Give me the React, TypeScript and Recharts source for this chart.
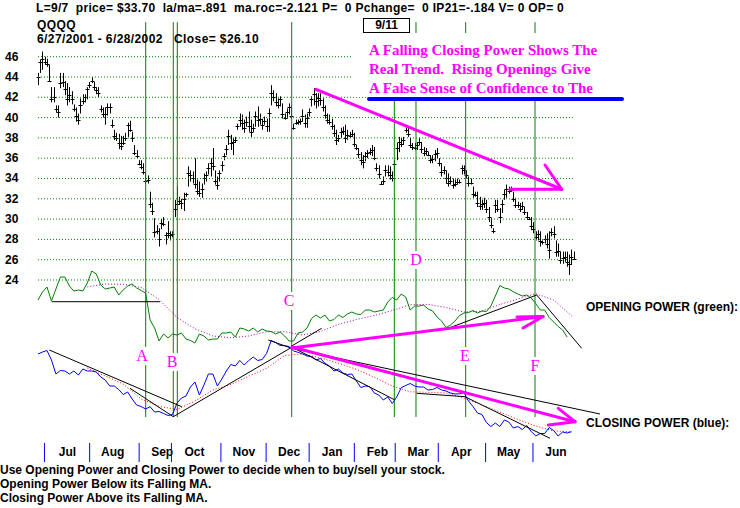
import React from 'react';
import { ComposedChart, Bar, Line, XAxis, YAxis, ReferenceLine } from 'recharts';

// QQQQ daily bars, 6/27/2001 - 6/28/2002
const priceHigh = [
  44.4, 45.7, 46.5, 46.0, 45.8, 45.2, 43.0, 43.0, 41.2, 41.2,
  44.4, 44.4, 43.6, 43.4, 43.0, 42.6, 41.3, 41.0, 40.4, 41.9,
  42.3, 42.3, 43.0, 43.5, 44.0, 43.5, 43.0, 43.0, 41.2, 41.0,
  41.0, 41.4, 41.4, 39.8, 38.8, 38.5, 38.4, 38.2, 38.2, 38.5,
  39.5, 39.7, 38.6, 37.3, 36.8, 35.8, 35.8, 35.5, 34.6, 34.3,
  32.7, 31.6, 30.1, 29.4, 29.1, 30.0, 30.2, 28.7, 29.8, 28.8,
  28.8, 31.9, 33.2, 32.2, 32.0, 32.6, 32.6,
  35.2, 34.8, 34.7, 36.0, 33.9, 33.7, 33.5, 34.5, 34.7, 35.5,
  36.0, 37.0, 34.8, 34.2, 34.8, 35.7, 36.5, 37.3, 38.8, 38.3,
  38.0, 38.1, 39.4, 40.4, 40.3, 39.8, 40.1, 40.6, 39.8, 39.4,
  40.6, 41.1, 40.4, 39.9, 40.1, 39.9, 40.9, 43.2, 42.7, 42.4,
  41.9, 42.1, 41.4, 40.4, 40.9, 41.4, 41.2, 39.4, 39.8, 39.8,
  39.9, 40.8, 40.3, 40.4, 40.9, 42.1, 42.9, 42.4, 42.4, 42.4,
  41.9, 41.2, 40.4, 40.3, 39.9, 39.3, 38.8, 38.3, 39.0, 39.1,
  39.3, 38.8, 38.6, 38.8, 38.5, 37.3, 37.0, 36.6, 36.3, 36.6,
  36.8, 37.0, 37.3, 37.1, 35.5, 35.3, 33.7,
  34.2, 35.3, 35.3, 35.2, 34.7, 35.8, 37.5, 38.1, 38.0, 38.1,
  39.1, 39.0, 38.0, 37.5, 37.5, 37.6, 38.0, 37.6, 37.1, 37.0,
  36.6, 36.3, 36.3, 36.8, 37.0, 36.0, 35.5, 35.2, 34.8, 34.5,
  34.2, 34.0, 33.9, 34.0, 33.9, 35.3, 35.3, 34.8, 34.2, 34.0,
  33.2, 32.7, 32.7, 32.2, 31.9, 32.1, 31.9, 31.2, 30.1, 29.1,
  31.9, 31.9, 31.1, 31.9, 32.9, 33.4, 33.2, 33.2, 32.7, 32.1,
  31.7, 31.6, 31.7, 31.2, 30.7, 30.2, 30.2, 29.7, 28.8, 28.9,
  28.8, 27.9, 28.4, 28.6, 28.8, 29.1, 29.3, 27.9, 27.6, 26.8,
  26.8, 26.8, 26.8, 26.5, 27.0, 26.8,
];
const priceLow = [
  43.2, 44.4, 44.7, 45.2, 45.0, 43.5, 41.5, 41.5, 40.5, 40.0,
  42.9, 43.0, 42.2, 41.2, 41.5, 41.3, 40.6, 39.6, 39.3, 40.4,
  41.3, 41.5, 41.8, 42.9, 43.4, 42.7, 42.3, 42.0, 40.5, 40.0,
  39.3, 40.2, 40.4, 39.0, 37.8, 37.7, 36.9, 36.8, 37.3, 37.7,
  38.1, 38.6, 37.6, 36.3, 36.0, 35.3, 34.9, 34.4, 33.5, 33.5,
  31.1, 30.4, 28.2, 28.5, 27.3, 29.0, 29.3, 27.5, 28.1, 27.9,
  28.2, 30.2, 30.9, 31.4, 31.0, 30.8, 32.2,
  33.2, 33.7, 33.5, 33.0, 32.4, 32.2, 32.1, 33.4, 33.7, 34.4,
  34.2, 34.8, 33.4, 32.9, 33.7, 34.7, 35.8, 36.3, 37.3, 36.8,
  36.3, 37.5, 38.8, 39.1, 38.8, 38.5, 39.1, 38.6, 38.1, 38.6,
  39.1, 39.1, 39.3, 38.8, 39.3, 38.6, 38.6, 41.2, 41.6, 41.1,
  40.9, 41.1, 39.9, 39.8, 39.9, 40.3, 39.9, 38.8, 39.3, 39.3,
  39.3, 39.6, 39.0, 39.0, 40.1, 41.1, 41.2, 40.9, 41.1, 41.2,
  40.6, 39.9, 39.4, 39.3, 38.8, 38.1, 37.3, 37.6, 38.0, 38.3,
  37.5, 37.8, 38.0, 38.1, 37.1, 36.8, 36.0, 35.3, 35.0, 35.7,
  36.0, 36.3, 36.2, 35.8, 34.7, 34.0, 33.4,
  33.4, 34.2, 34.2, 33.9, 33.7, 34.2, 35.8, 36.6, 37.1, 37.3,
  38.5, 38.1, 37.0, 36.8, 36.8, 36.8, 37.3, 36.5, 36.2, 36.3,
  36.2, 35.5, 35.5, 35.7, 36.0, 35.2, 34.2, 34.4, 33.5, 33.2,
  33.4, 33.0, 33.2, 33.4, 33.5, 34.4, 34.4, 34.0, 33.2, 33.4,
  32.1, 32.2, 31.2, 30.9, 30.9, 31.1, 30.6, 29.7, 29.1, 28.6,
  30.6, 30.7, 29.6, 30.6, 31.9, 32.1, 32.5, 32.7, 31.7, 31.1,
  31.1, 30.7, 30.9, 30.4, 29.9, 29.9, 28.9, 28.6, 27.9, 27.9,
  27.3, 27.5, 27.6, 27.1, 26.1, 28.3, 28.1, 26.3, 26.3, 25.6,
  25.6, 25.8, 25.3, 24.5, 25.5, 26.0,
];
const priceClose = [
  44.0, 45.5, 45.8, 45.5, 45.3, 43.6, 41.8, 42.0, 40.8, 40.6,
  43.4, 43.5, 42.8, 41.8, 42.2, 41.8, 40.8, 40.2, 39.8, 41.2,
  41.6, 42.0, 42.8, 43.2, 43.6, 43.0, 42.7, 42.4, 40.8, 40.4,
  40.4, 41.0, 41.0, 39.3, 38.2, 38.0, 37.5, 37.2, 37.5, 38.0,
  39.3, 38.8, 38.0, 36.5, 36.2, 35.4, 35.1, 34.6, 33.8, 33.9,
  31.5, 30.8, 28.7, 28.8, 28.0, 29.6, 29.5, 28.4, 28.6, 28.4,
  28.5, 31.0, 31.5, 31.8, 31.6, 32.0, 32.5,
  34.5, 34.3, 34.0, 33.5, 32.8, 32.6, 33.0, 34.0, 34.3, 35.0,
  35.5, 35.2, 33.8, 33.4, 34.5, 35.3, 36.2, 36.9, 38.2, 37.5,
  37.6, 37.8, 39.2, 39.8, 39.5, 39.0, 39.6, 39.2, 38.6, 39.0,
  40.2, 39.8, 39.9, 39.3, 39.7, 39.2, 40.5, 42.4, 42.0, 41.5,
  41.2, 41.8, 40.4, 40.0, 40.6, 41.0, 40.2, 39.0, 39.5, 39.6,
  39.7, 40.2, 39.5, 40.0, 40.6, 41.8, 42.3, 41.6, 41.9, 41.7,
  41.0, 40.3, 39.8, 39.6, 39.2, 38.5, 37.8, 38.0, 38.6, 38.7,
  38.0, 38.3, 38.2, 38.4, 37.4, 37.0, 36.4, 35.8, 35.6, 36.2,
  36.5, 36.6, 36.8, 36.0, 35.0, 34.4, 33.5,
  33.8, 34.8, 34.6, 34.3, 34.0, 35.4, 37.0, 37.6, 37.4, 37.8,
  38.8, 38.4, 37.3, 37.1, 37.0, 37.3, 37.6, 36.9, 36.5, 36.7,
  36.3, 35.8, 35.9, 36.4, 36.5, 35.5, 34.6, 34.8, 34.0, 33.6,
  33.8, 33.4, 33.5, 33.7, 33.7, 35.0, 34.8, 34.3, 33.6, 33.6,
  32.5, 32.4, 31.6, 31.3, 31.5, 31.6, 31.0, 30.2, 29.4, 28.8,
  31.4, 31.0, 30.2, 31.5, 32.5, 33.0, 32.8, 32.9, 32.0, 31.4,
  31.4, 31.0, 31.3, 30.7, 30.2, 30.0, 29.3, 29.0, 28.2, 28.5,
  27.8, 27.7, 28.0, 27.5, 27.0, 28.7, 28.5, 26.8, 26.9, 26.0,
  26.2, 26.3, 25.8, 25.6, 26.3, 26.1,
];

// Opening Power (green) and Closing Power (blue), one value every second bar
const openingPower = [
  25.0, 29.0, 31.5, 24.5, 30.5, 36.5, 36.5, 32.0, 29.5, 30.0,
  29.5, 33.5, 39.5, 38.0, 32.5, 30.5, 31.0, 31.5, 27.5, 30.0,
  32.0, 33.0, 31.0, 29.75, 28.5, 15.0, 11.0, 4.5, 8.0, 6.0,
  8.0, 7.5, 8.5, 5.5, 4.75, 3.5, 8.0, 7.0, 5.0, 5.5,
  5.5, 8.5, 8.5, 9.0, 6.5, 11.0, 10.5, 9.5, 11.0, 9.0,
  10.5, 9.5, 9.25, 8.0, 9.0, 7.0, 4.5, 4.5, 8.5, 9.0,
  11.0, 15.75, 17.5, 16.0, 17.5, 14.5, 15.25, 17.5, 16.25, 18.0,
  19.0, 18.0, 17.75, 20.0, 20.0, 19.0, 19.5, 20.0, 24.0, 26.25,
  25.0, 28.0, 26.5, 20.0, 22.0, 22.0, 22.5, 20.5, 19.5, 16.5,
  14.5, 11.25, 12.5, 14.5, 17.25, 18.5, 18.75, 19.75, 18.5, 19.5,
  19.25, 22.0, 27.0, 32.25, 31.0, 30.5, 29.15, 28.0, 27.0, 27.5,
  26.0, 23.25, 20.0, 20.0, 16.25, 14.0, 11.75, 10.0, 6.5,
];
const closingPower = [
  43.0, 44.0, 44.75, 40.0, 33.0, 34.75, 34.5, 33.0, 34.5, 32.5,
  35.5, 34.5, 34.5, 34.0, 31.5, 30.0, 27.0, 27.0, 25.25, 22.75,
  24.0, 20.5, 17.5, 16.75, 15.5, 16.65, 14.0, 14.25, 13.25, 12.25,
  12.75, 18.5, 21.0, 22.0, 26.5, 29.0, 22.5, 27.5, 33.0, 33.0,
  27.0, 30.5, 34.5, 37.75, 37.0, 39.75, 37.5, 39.75, 41.5, 39.75,
  40.25, 43.35, 49.75, 48.75, 47.25, 47.15, 46.75, 44.5, 43.85, 43.0,
  42.0, 41.75, 40.0, 40.75, 38.35, 37.0, 34.5, 35.5, 33.5, 32.75,
  33.0, 29.5, 26.25, 27.0, 26.65, 23.5, 22.5, 20.0, 21.5, 18.25,
  21.5, 26.15, 27.25, 28.25, 27.0, 26.5, 26.5, 25.0, 25.25, 26.25,
  25.0, 24.5, 23.5, 23.0, 23.1, 23.75, 19.5, 16.75, 13.5, 12.75,
  8.75, 6.75, 8.5, 6.75, 10.0, 9.0, 6.0, 6.75, 5.25, 7.25,
  4.25, 2.0, 3.25, 3.25, 6.25, 4.75, 2.0, 4.0, 3.5, 4.15,
];
// moving averages, one value every eighth bar starting at bar 22
const openingMa = [
  31.5, 33.0, 32.85, 31.25, 25.25, 16.25, 10.65, 7.0, 6.1, 7.0,
  9.15, 9.15, 7.5, 9.25, 12.75, 15.25, 17.25, 19.75, 22.6, 22.85,
  21.25, 19.0, 19.4, 22.75, 25.5, 28.15, 25.0, 17.0,
];
const closingMa = [
  36.0, 32.0, 28.0, 20.5, 16.85, 15.25, 19.5, 25.0, 27.75, 31.9,
  35.85, 42.25, 43.0, 41.0, 38.4, 35.35, 31.4, 27.0, 24.1, 23.85,
  23.5, 21.0, 17.5, 14.0, 10.25, 7.0, 4.5, 4.15,
];

// trading day number (6/27/2001 = 0) of each month start
const monthDays = [3, 24, 47, 62, 85, 106, 126, 147, 166, 186, 208, 230];
const monthNames = ['Jul', 'Aug', 'Sep', 'Oct', 'Nov', 'Dec', 'Jan', 'Feb', 'Mar', 'Apr', 'May', 'Jun'];
const priceTicks = [24, 26, 28, 30, 32, 34, 36, 38, 40, 42, 44, 46];
const LAST_DAY = 249;

// vertical signal lines (trading day)
const eventDays = [50.05, 62.87, 64.73, 117.89, 165.57, 175.65, 198.74, 230.95];

// hand drawn trendlines: [day1, value1, day2, value2]
const opTrends = [
  [6.37, 24.15, 56.69, 24.15],
  [117.89, 2.0, 131.83, 10.85],
  [190.66, 10.85, 231.74, 27.5],
  [231.74, 27.5, 252.65, 0.85],
];
const cpTrends = [
  [5.25, 45.0, 66.78, 16.65],
  [42.75, 25.85, 62.87, 11.65],
  [62.87, 11.65, 117.1, 45.85],
  [107.02, 50.0, 117.89, 45.85],
  [117.89, 45.85, 261.15, 13.0],
  [117.89, 46.5, 165.89, 20.0],
  [175.97, 23.35, 198.42, 21.65],
  [198.42, 21.65, 237.92, 0.85],
];
const priceArrow = [
  [129.18, 42.79, 243.35, 32.94],
  [235.6, 35.33, 243.35, 32.94],
  [219.3, 32.94, 243.35, 32.94],
];
const opArrow = [
  [117.89, 1.0, 234.67, 16.75],
  [222.58, 16.5, 234.67, 16.75],
  [225.37, 11.0, 234.67, 16.75],
];
const cpArrow = [
  [118.03, 46.5, 249.54, 9.15],
  [241.78, 15.85, 249.54, 9.15],
  [237.13, 7.5, 249.54, 9.15],
];

const letters = [
  { t: 'A', x: 142, y: 356 },
  { t: 'B', x: 172, y: 362 },
  { t: 'C', x: 289, y: 301 },
  { t: 'D', x: 416, y: 260 },
  { t: 'E', x: 465, y: 356 },
  { t: 'F', x: 535, y: 366 },
];

const step = LAST_DAY / (priceHigh.length - 1);
const barRows = priceHigh.map((h, i) => ({
  day: i * step,
  range: [priceLow[i], h],
  high: h,
  low: priceLow[i],
  close: priceClose[i],
}));
const opRows = openingPower.map((v, j) => ({ day: 2 * j * step, op: v }));
const cpRows = closingPower.map((v, j) => ({ day: 2 * j * step, cp: v }));
const opMaRows = openingMa.map((v, k) => ({ day: 2 * (11 + 4 * k) * step, opMa: v }));
const cpMaRows = closingMa.map((v, k) => ({ day: 2 * (11 + 4 * k) * step, cpMa: v }));

const SANS = '"Liberation Sans", Arial, sans-serif';
const SERIF = '"Liberation Serif", "Times New Roman", serif';
const GREEN = '#008000';
const MAGENTA = '#ff00ff';

const PriceBar = (props: any) => {
  const { x, y, width, height, payload } = props;
  if (x == null || y == null) return null;
  const top = Math.min(y, y + height);
  const bot = Math.max(y, y + height);
  const cx = Math.round(x + width / 2) + 0.5;
  const span = payload.high - payload.low || 1;
  const yc = Math.round(top + ((bot - top) * (payload.high - payload.close)) / span) + 0.5;
  return (
    <g stroke="#000" strokeWidth={1}>
      <line x1={cx} y1={top} x2={cx} y2={bot} />
      <line x1={cx - 2} y1={yc} x2={cx + 2} y2={yc} />
    </g>
  );
};

const MonthTick = (props: any) => {
  const { x, y, payload } = props;
  const idx = monthDays.indexOf(payload.value);
  return (
    <g>
      <line x1={x} y1={y + 2} x2={x} y2={y + 21} stroke="#0000ff" strokeWidth={1} />
      <text x={x + 23} y={y + 15} textAnchor="middle" fill="#000"
        style={{ fontFamily: SANS, fontSize: 12, fontWeight: 'bold' }}>
        {monthNames[idx]}
      </text>
    </g>
  );
};

const PriceTick = (props: any) => (
  <text x={5} y={props.y + 4} fill="#000" style={{ fontFamily: SANS, fontSize: 12, fontWeight: 'bold' }}>
    {props.payload.value}
  </text>
);

const seg = (s: number[]) => [{ x: s[0], y: s[1] }, { x: s[2], y: s[3] }];

const txt: React.CSSProperties = {
  position: 'absolute', fontFamily: SANS, fontSize: 12, fontWeight: 'bold',
  whiteSpace: 'pre', color: '#000', lineHeight: '14px',
};

export default function App() {
  return (
    <div style={{ position: 'absolute', left: 0, top: 0, width: 740, height: 508, background: '#fff', overflow: 'hidden' }}>
      <ComposedChart width={740} height={508} data={barRows} margin={{ top: 0, right: 0, bottom: 0, left: 0 }}>
        <XAxis dataKey="day" type="number" domain={[-17.193, 326.21]} allowDataOverflow
          ticks={monthDays} interval={0} height={67} axisLine={false} tickLine={false}
          tickSize={0} tickMargin={0} tick={(p: any) => <MonthTick {...p} />} />
        <YAxis yAxisId="price" domain={[8.138, 51.586]} allowDataOverflow ticks={priceTicks} interval={0}
          width={1} axisLine={false} tickLine={false} tick={(p: any) => <PriceTick {...p} />} />
        <YAxis yAxisId="op" hide domain={[-45.5, 175]} allowDataOverflow />
        <YAxis yAxisId="cp" hide domain={[-0.5, 220]} allowDataOverflow />

        {priceTicks.map((v) => (
          <ReferenceLine key={`g${v}`} yAxisId="price" segment={[{ x: 0, y: v }, { x: 249.5, y: v }]}
            stroke={GREEN} strokeDasharray="1 2" />
        ))}
        {eventDays.map((d) => (
          <ReferenceLine key={`e${d}`} yAxisId="price" segment={[{ x: d, y: 10.5 }, { x: d, y: 49.4 }]}
            stroke={GREEN} strokeWidth={1} />
        ))}

        <Bar yAxisId="price" dataKey="range" barSize={2} shape={PriceBar} isAnimationActive={false} />

        <Line yAxisId="op" data={opMaRows} dataKey="opMa" stroke="#a000a0" strokeDasharray="1 2" dot={false}
          activeDot={false} isAnimationActive={false} />
        <Line yAxisId="op" data={opRows} dataKey="op" stroke={GREEN} strokeWidth={1} dot={false}
          activeDot={false} isAnimationActive={false} />
        <Line yAxisId="cp" data={cpMaRows} dataKey="cpMa" stroke="#ff0000" strokeDasharray="1 2" dot={false}
          activeDot={false} isAnimationActive={false} />
        <Line yAxisId="cp" data={cpRows} dataKey="cp" stroke="#0000ff" strokeWidth={1} dot={false}
          activeDot={false} isAnimationActive={false} />

        {opTrends.map((s, i) => (
          <ReferenceLine key={`ot${i}`} yAxisId="op" segment={seg(s)} stroke="#000" />
        ))}
        {cpTrends.map((s, i) => (
          <ReferenceLine key={`ct${i}`} yAxisId="cp" segment={seg(s)} stroke="#000" />
        ))}
        {priceArrow.map((s, i) => (
          <ReferenceLine key={`pa${i}`} yAxisId="price" segment={seg(s)} stroke={MAGENTA} strokeWidth={3} strokeLinecap="round" />
        ))}
        {opArrow.map((s, i) => (
          <ReferenceLine key={`oa${i}`} yAxisId="op" segment={seg(s)} stroke={MAGENTA} strokeWidth={3} strokeLinecap="round" />
        ))}
        {cpArrow.map((s, i) => (
          <ReferenceLine key={`ca${i}`} yAxisId="cp" segment={seg(s)} stroke={MAGENTA} strokeWidth={3} strokeLinecap="round" />
        ))}
      </ComposedChart>

      <div style={{ ...txt, left: 36, top: 1, letterSpacing: 0.3 }}>
        {'L=9/7  price= $33.70  la/ma=.891  ma.roc=-2.121 P=  0 Pchange=  0 IP21=-.184 V= 0 OP= 0'}
      </div>
      <div style={{ ...txt, left: 37, top: 18, letterSpacing: 0.4 }}>QQQQ</div>
      <div style={{ ...txt, left: 37, top: 32, letterSpacing: 0.4 }}>{'6/27/2001 - 6/28/2002   Close= $26.10'}</div>

      <div style={{ ...txt, left: 363, top: 18, width: 45, height: 13, border: '1px solid #000',
        background: '#fff', textAlign: 'center', lineHeight: '13px' }}>9/11</div>

      <div style={{ position: 'absolute', left: 352, top: 33, width: 273, height: 64, background: '#fff' }} />
      <div style={{ position: 'absolute', left: 369, top: 41, fontFamily: SERIF, fontSize: 15,
        fontWeight: 'bold', color: MAGENTA, lineHeight: '19px', whiteSpace: 'pre' }}>
        {'A Falling Closing Power Shows The\nReal Trend.  Rising Openings Give\nA False Sense of Confidence to The'}
      </div>
      <div style={{ position: 'absolute', left: 367, top: 97, width: 257, height: 4, borderRadius: 2, background: '#0000ff' }} />

      {letters.map((l) => (
        <div key={l.t} style={{ position: 'absolute', left: l.x - 7, top: l.y - 9, width: 14, height: 18,
          background: '#fff', color: MAGENTA, fontFamily: SERIF, fontSize: 16, lineHeight: '18px', textAlign: 'center' }}>
          {l.t}
        </div>
      ))}

      <div style={{ ...txt, left: 586, top: 300 }}>OPENING POWER (green):</div>
      <div style={{ ...txt, left: 586, top: 416 }}>CLOSING POWER (blue):</div>

      <div style={{ ...txt, left: 0, top: 463 }}>
        {'Use Opening Power and Closing Power to decide when to buy/sell your stock.\nOpening Power Below its Falling MA.\nClosing Power Above its Falling MA.'}
      </div>
    </div>
  );
}
